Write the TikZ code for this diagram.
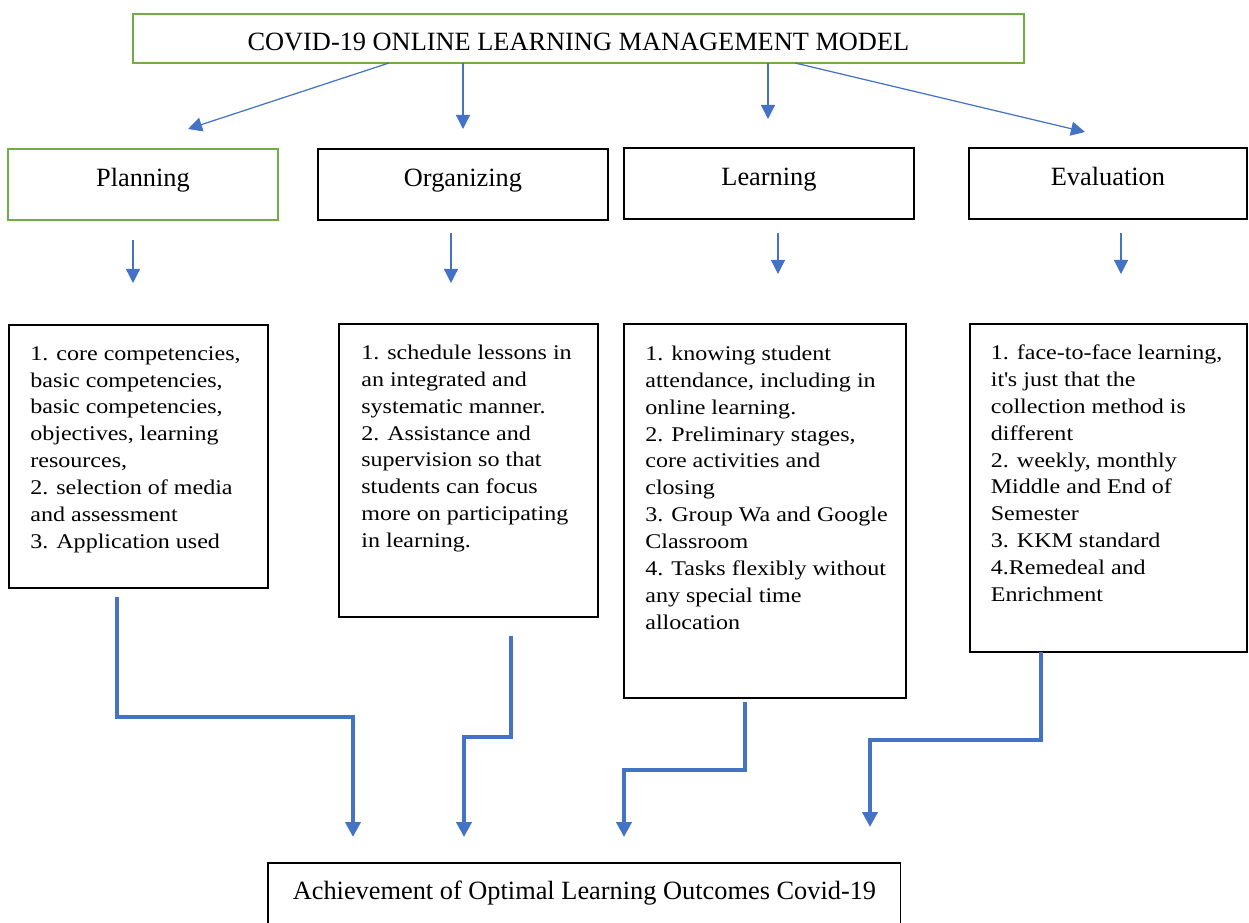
\documentclass[tikz,border=0pt]{standalone}
\usepackage{fontspec}
\setmainfont{Liberation Serif}
\newfontfamily\listfont{Liberation Serif}[FakeStretch=1.15]
\usepackage{tikz}
\usetikzlibrary{arrows.meta}
\usetikzlibrary{positioning}
\usetikzlibrary{calc}
\definecolor{wordblue}{HTML}{4472C4}
\definecolor{wordgreen}{HTML}{70AD47}
\tikzset{
    box/.style={draw=black, line width=0.65pt, anchor=north west, inner sep=0pt, outer sep=0pt},
    greenbox/.style={box, draw=wordgreen, line width=1.5pt},
    headtext/.style={font=\fontsize{15pt}{18pt}\selectfont, text height=10pt, text depth=8pt},
    listtext/.style={font=\listfont\fontsize{11.9pt}{15.3pt}\selectfont, align=left, inner sep=0pt, anchor=north west},
    thinarrow/.style={draw=wordblue, line width=0.7pt, -{Triangle[length=8pt, width=8pt]}},
    bigarrow/.style={draw=wordblue, line width=2.2pt, -{Triangle[length=8.5pt, width=8.5pt]}}}

\begin{document}
\begin{tikzpicture}[x=0.02cm, y=-0.02cm]
        \useasboundingbox (0,0) rectangle (1249,923);
        \clip (0,0) rectangle (1249,923);

                    \node[greenbox, minimum width=17.82cm, minimum height=0.98cm, font=\fontsize{15pt}{18pt}\selectfont, text height=14pt, text depth=0pt] (model) at (133,14) {COVID-19 ONLINE LEARNING MANAGEMENT MODEL};

                    \node[greenbox, headtext, minimum width=5.4cm, minimum height=1.42cm] (plan) at (8,149) {Planning};
                    \node[box, headtext, minimum width=5.8cm, minimum height=1.42cm] (org) at (318,149) {Organizing};
                    \node[box, headtext, minimum width=5.8cm, minimum height=1.42cm] (learn) at (624,148) {Learning};
                    \node[box, headtext, minimum width=5.56cm, minimum height=1.42cm] (eval) at (969,148) {Evaluation};

                    \node[box, minimum width=5.18cm, minimum height=5.26cm] (plist) at (9,325) {};
                    \node[box, minimum width=5.18cm, minimum height=5.86cm] (olist) at (339,324) {};
                    \node[box, minimum width=5.64cm, minimum height=7.48cm] (llist) at (624,324) {};
                    \node[box, minimum width=5.54cm, minimum height=6.56cm] (elist) at (970,324) {};

                    \node[listtext, below right=0.42cm and 0.42cm of plist.north west] (ptext) {1. core competencies,\\ basic competencies,\\ basic competencies,\\ objectives, learning\\ resources,\\ 2. selection of media\\ and assessment\\ 3. Application used};
                    \node[listtext, below right=0.41cm and 0.44cm of olist.north west] (otext) {1. schedule lessons in\\ an integrated and\\ systematic manner.\\ 2. Assistance and\\ supervision so that\\ students can focus\\ more on participating\\ in learning.};
                    \node[listtext, below right=0.43cm and 0.42cm of llist.north west] (ltext) {1. knowing student\\ attendance, including in\\ online learning.\\ 2. Preliminary stages,\\ core activities and\\ closing\\ 3. Group Wa and Google\\ Classroom\\ 4. Tasks flexibly without\\ any special time\\ allocation};
                    \node[listtext, below right=0.41cm and 0.41cm of elist.north west] (etext) {1. face-to-face learning,\\ it\textquotesingle s just that the\\ collection method is\\ different\\ 2. weekly, monthly\\ Middle and End of\\ Semester\\ 3. KKM standard\\ 4.Remedeal and\\ Enrichment};

                    \node[box, font=\fontsize{15pt}{18pt}\selectfont, text height=10pt, text depth=4.7pt, minimum width=12.66cm, minimum height=1.28cm] (goal) at (268,863) {Achievement of Optimal Learning Outcomes Covid-19};

                    \draw[thinarrow] ($(model.south west)+(256,0)$) -- ($(plan.north west)+(180,-20)$);
                    \draw[thinarrow] ($(model.south west)+(330,0)$) -- ($(org.north west)+(145,-20)$);
                    \draw[thinarrow] ($(model.south west)+(635,0)$) -- ($(learn.north west)+(144,-29)$);
                    \draw[thinarrow] ($(model.south west)+(662,0)$) -- ($(eval.north west)+(116,-16)$);

                    \draw[thinarrow] ($(plan.south west)+(125,20)$) -- ($(plist.north west)+(124,-42)$);
                    \draw[thinarrow] ($(org.south west)+(133,13)$) -- ($(olist.north west)+(112,-41)$);
                    \draw[thinarrow] ($(learn.south west)+(154,14)$) -- ($(llist.north west)+(154,-50)$);
                    \draw[thinarrow] ($(eval.south west)+(152,14)$) -- ($(elist.north west)+(151,-50)$);

                    \draw[bigarrow] ($(plist.south west)+(108,9)$) -- ++(0,120) -| ($(goal.north west)+(85,-26)$);
                    \draw[bigarrow] ($(olist.south west)+(172,19)$) -- ++(0,101) -| ($(goal.north west)+(196,-26)$);
                    \draw[bigarrow] ($(llist.south west)+(121,4)$) -- ++(0,68) -| ($(goal.north west)+(356,-26)$);
                    \draw[bigarrow] ($(elist.south west)+(71,0)$) -- ++(0,88) -| ($(goal.north west)+(602,-36)$);

                \end{tikzpicture}
\end{document}
